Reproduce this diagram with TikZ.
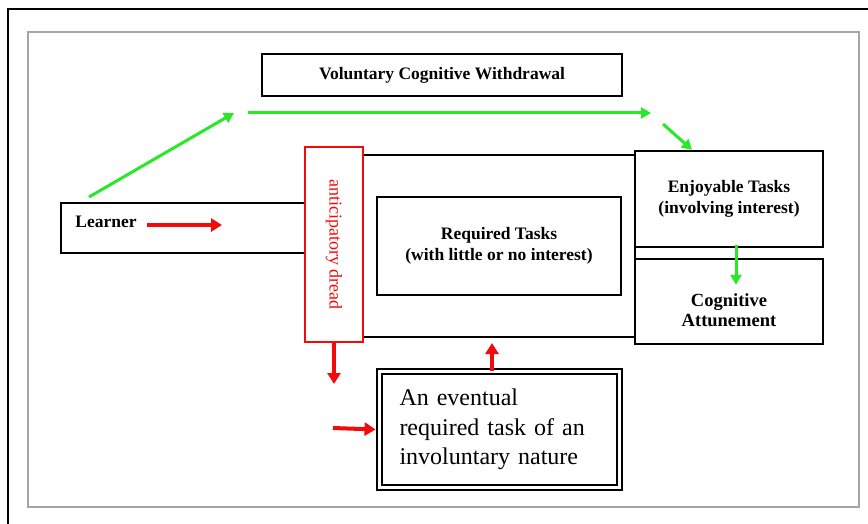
\documentclass[tikz,border=0pt]{standalone}
\usepackage{fontspec}
\setmainfont{Liberation Serif}
\usepackage{graphicx}
\usetikzlibrary{arrows.meta,positioning}
\definecolor{arrowgreen}{RGB}{40,232,40}
\definecolor{arrowred}{RGB}{245,10,10}
\definecolor{framegray}{RGB}{165,165,165}

\begin{document}
\begin{tikzpicture}[
    x=1pt, y=-1pt,
    box/.style={draw=black, line width=2.4pt, fill=white, inner sep=0pt},
    boldlabel/.style={font=\fontsize{17.5}{21}\selectfont\bfseries, align=center},
    grnarrow/.style={-{Triangle[length=10pt,width=11pt]}, arrowgreen, line width=3pt},
    redarrow/.style={-{Triangle[length=11pt,width=13pt]}, arrowred, line width=4pt}
]
    \useasboundingbox (0,0) rectangle (868,524);
    \clip (0,0) rectangle (868,524);

    % Page frames (outer one runs off the page)
    \draw[line width=2.8pt] (8,540) -- (8,9) -- (880,9);
    \draw[framegray, line width=2pt] (28,32) rectangle (859,507);

    % Withdrawal box
    \node[box, boldlabel, minimum width=360pt, minimum height=42pt] (withdrawal) at (442,75) {Voluntary Cognitive Withdrawal};

    % Zone of required tasks
    \node[box, minimum width=330pt, minimum height=182pt] (zone) at (470,246) {};
    \node[box, boldlabel, minimum width=244pt, minimum height=98pt] (required) at (499,246) {Required Tasks\\(with little or no interest)};

    % Learner and dread
    \node[box, minimum width=244pt, minimum height=50pt,
          label={[anchor=base west, xshift=12pt, yshift=1pt, font=\fontsize{17.5}{21}\selectfont\bfseries]west:Learner}] (learner) at (183,228) {};
    \node[box, draw=arrowred, text=arrowred, line width=2.8pt, minimum width=58pt, minimum height=195pt,
          font=\fontsize{18}{20}\selectfont] (dread) at (334,244.5) {\rotatebox{-90}{anticipatory dread}};

    % Interest side
    \node[box, boldlabel, minimum width=188pt, minimum height=96pt] (enjoyable) at (729,199) {Enjoyable Tasks\\(involving interest)};
    \node[box, minimum width=188pt, minimum height=85pt,
          label={[boldlabel, font=\fontsize{18.5}{20}\selectfont\bfseries, yshift=-9pt]center:Cognitive\\Attunement}] (attune) at (729,301.5) {};

    % Involuntary task
    \node[box, double, double distance=2.4pt, line width=1.9pt, minimum width=240pt, minimum height=116pt,
          text width=200pt, align=left, font=\fontsize{24}{29.5}\selectfont] (eventual) at (499.5,429.5) {An eventual\\required task of an\\involuntary nature};

    % Free ends of the connectors
    \coordinate (lstart) at (147,225);
    \coordinate (lend) at (222,225);
    \coordinate (gstart) at (89,197);
    \coordinate (gturn) at (234,113);
    \coordinate (gspan) at (248,113);
    \coordinate (gfar) at (651,113);
    \coordinate (gdrop) at (663,124);
    \coordinate (dreaddrop) at (334,384);
    \coordinate (zonegap) at (492,343);
    \coordinate (rin) at (333,428);

    % Green (voluntary) path
    \draw[grnarrow] (gstart) -- (gturn);
    \draw[grnarrow] (gspan) -- (gfar);
    \draw[grnarrow] (gdrop) -- ([xshift=-37pt]enjoyable.north);
    \draw[grnarrow] ([xshift=7pt,yshift=3pt]enjoyable.south) -- ([xshift=7pt,yshift=-27pt]attune.north);

    % Red (involuntary) path
    \draw[redarrow] (lstart) -- (lend);
    \draw[redarrow] (dread.south) -- (dreaddrop);
    \draw[redarrow] ([xshift=-7.5pt]eventual.north) -- (zonegap);
    \draw[redarrow] (rin) -- ([xshift=-3pt]eventual.west);

\end{tikzpicture}
\end{document}
